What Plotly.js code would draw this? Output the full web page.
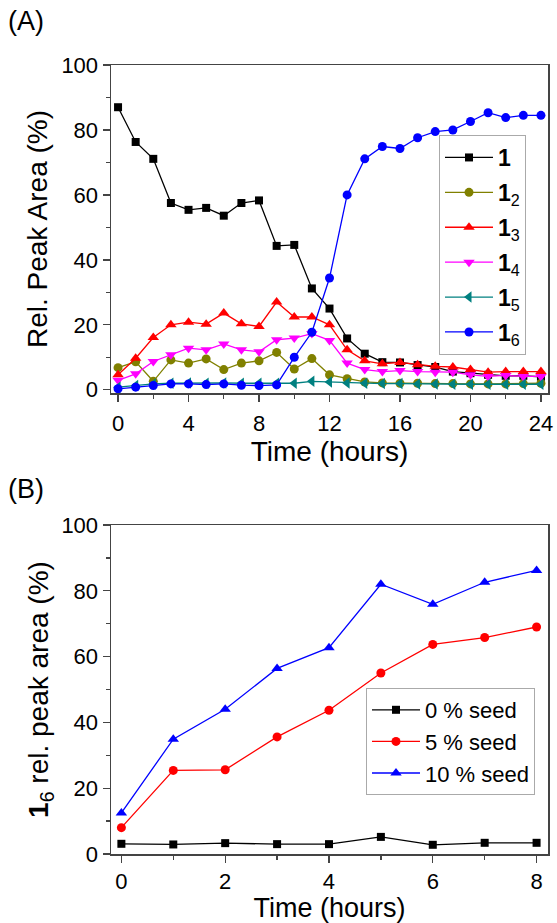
<!DOCTYPE html>
<html>
<head>
<meta charset="utf-8">
<script src="https://cdn.plot.ly/plotly-3.0.1.min.js"></script>
<style>html,body{margin:0;padding:0;background:#fff;}#chart{width:557px;height:923px;}</style>
</head>
<body>
<div id="chart"></div>
<script>
// Panel A data
const hoursA = [0,1,2,3,4,5,6,7,8,9,10,11,12,13,14,15,16,17,18,19,20,21,22,23,24];
const comp1  = [87.0,76.3,71.1,57.5,55.4,56.0,53.6,57.5,58.3,44.3,44.6,31.2,25.0,15.8,11.1,8.5,8.4,7.6,7.0,5.6,5.1,4.6,4.3,4.3,4.0];
const comp12 = [6.8,8.6,2.6,9.2,8.2,9.5,6.2,8.2,8.9,11.5,6.4,9.6,4.6,3.4,2.4,2.1,2.0,2.0,1.9,1.9,1.8,1.8,1.8,1.9,2.0];
const comp13 = [4.6,9.7,16.1,20.0,20.8,20.2,23.6,20.3,19.5,27.0,22.4,22.4,20.0,12.3,8.9,8.0,8.4,7.7,7.2,7.0,6.2,5.4,5.6,5.6,5.6];
const comp14 = [2.9,4.9,8.7,10.8,12.8,12.3,14.1,12.3,11.7,15.4,15.9,17.3,15.2,8.2,6.2,5.6,5.9,5.6,5.4,5.4,4.6,4.1,4.4,4.1,4.1];
const comp15 = [0.8,1.3,1.8,2.0,2.1,2.0,2.1,2.0,2.0,2.0,2.0,2.6,2.4,2.1,2.0,1.9,1.9,1.8,1.8,1.7,1.7,1.7,1.7,1.7,1.7];
const comp16 = [0.3,0.8,1.3,1.8,1.8,1.6,1.8,1.4,1.3,1.5,10.0,17.7,34.4,60.0,71.1,74.9,74.3,77.6,79.5,80.0,82.6,85.3,83.8,84.5,84.5];
const namesA = ['<b>1</b>','<b>1</b><sub>2</sub>','<b>1</b><sub>3</sub>','<b>1</b><sub>4</sub>','<b>1</b><sub>5</sub>','<b>1</b><sub>6</sub>'];

// Panel B data
const hoursB = [0,1,2,3,4,5,6,7,8];
const seed0  = [3.1,2.9,3.3,3.0,3.0,5.2,2.8,3.4,3.4];
const seed5  = [8.0,25.4,25.6,35.6,43.7,55.0,63.7,65.8,69.0];
const seed10 = [12.5,34.9,44.0,56.4,62.7,82.0,75.9,82.6,86.2];
const namesB = ['0 % seed','5 % seed','10 % seed'];

const FONT = 'Liberation Sans, Arial, Helvetica, sans-serif';
const colorsA = ['#000000','#808000','#ff0000','#ff00ff','#008080','#0000ff'];
const symbolsA = ['square','circle','triangle-up','triangle-down','triangle-left','circle'];
const sizesA = [8,9,10,10,10,9];
const seriesA = [comp1,comp12,comp13,comp14,comp15,comp16];

const traces = [];
seriesA.forEach((ys,i)=>{
  traces.push({
    x: hoursA, y: ys, type:'scatter', mode:'lines+markers', name: namesA[i],
    xaxis:'x', yaxis:'y', legend:'legend', legendgroup:'a'+i,
    line:{color:colorsA[i], width:1.3},
    marker:{symbol:symbolsA[i], size:sizesA[i], color:colorsA[i]}
  });
});
const colorsB = ['#000000','#ff0000','#0000ff'];
const symbolsB = ['square','circle','triangle-up'];
[seed0,seed5,seed10].forEach((ys,i)=>{
  traces.push({
    x: hoursB, y: ys, type:'scatter', mode:'lines+markers', name: namesB[i],
    xaxis:'x2', yaxis:'y2', legend:'legend2',
    line:{color:colorsB[i], width:1.3},
    marker:{symbol:symbolsB[i], size:[8,9,10][i], color:colorsB[i]}
  });
});

const H = 923, W = 557;
const axCommon = {
  showline:true, linecolor:'#444', linewidth:1.5, mirror:true,
  ticks:'outside', ticklen:7, tickwidth:1.3, tickcolor:'#444',
  showgrid:false, zeroline:false,
  tickfont:{family:FONT, size:22, color:'#000'}
};
const xdom = [111/W, 548/W];
const layout = {
  width:W, height:H,
  margin:{l:0,r:0,t:0,b:0},
  paper_bgcolor:'#fff', plot_bgcolor:'#fff',
  font:{family:FONT, color:'#000'},
  showlegend:true,
  xaxis: Object.assign({}, axCommon, {
    domain:xdom, anchor:'y', range:[-0.4,24.4], tick0:0, dtick:4, ticklabelstandoff:3,
    minor:{dtick:2, ticks:'outside', ticklen:4, tickwidth:1.3, tickcolor:'#444'},
    title:{text:'Time (hours)', font:{family:FONT, size:28, color:'#000'}, standoff:4}
  }),
  yaxis: Object.assign({}, axCommon, {
    domain:[1-393/H, 1-65/H], anchor:'x', range:[-1.0,100], tick0:0, dtick:20,
    minor:{dtick:10, ticks:'outside', ticklen:4, tickwidth:1.3, tickcolor:'#444'},
    title:{text:'Rel. Peak Area (%)', font:{family:FONT, size:28, color:'#000'}, standoff:5}
  }),
  xaxis2: Object.assign({}, axCommon, {
    domain:xdom, anchor:'y2', range:[-0.2,8.22], tick0:0, dtick:2, ticklabelstandoff:0,
    minor:{dtick:1, ticks:'outside', ticklen:4, tickwidth:1.3, tickcolor:'#444'},
    title:{text:'Time (hours)', font:{family:FONT, size:27, color:'#000'}, standoff:6}
  }),
  yaxis2: Object.assign({}, axCommon, {
    domain:[1-854/H, 1-525/H], anchor:'x2', range:[0,100], tick0:0, dtick:20,
    minor:{dtick:10, ticks:'outside', ticklen:4, tickwidth:1.3, tickcolor:'#444'},
    title:{text:'<b>1</b><sub>6</sub> rel. peak area (%)', font:{family:FONT, size:28, color:'#000'}, standoff:4}
  }),
  legend:{
    x:439/W, y:1-135/H, xanchor:'left', yanchor:'top',
    bgcolor:'#fff', bordercolor:'#aaa', borderwidth:1, itemwidth:48,
    font:{family:FONT, size:23, color:'#000'}, tracegroupgap:2
  },
  legend2:{
    x:366/W, y:1-688/H, xanchor:'left', yanchor:'top',
    bgcolor:'#fff', bordercolor:'#aaa', borderwidth:1, itemwidth:48,
    font:{family:FONT, size:22, color:'#000'}, tracegroupgap:0
  },
  annotations:[
    {text:'(A)', xref:'paper', yref:'paper', x:6/W, y:1-21/H, xanchor:'left', yanchor:'middle', showarrow:false, font:{family:FONT, size:27, color:'#000'}},
    {text:'(B)', xref:'paper', yref:'paper', x:6/W, y:1-489/H, xanchor:'left', yanchor:'middle', showarrow:false, font:{family:FONT, size:27, color:'#000'}}
  ]
};
Plotly.newPlot('chart', traces, layout, {displayModeBar:false, staticPlot:true});
</script>
</body>
</html>
